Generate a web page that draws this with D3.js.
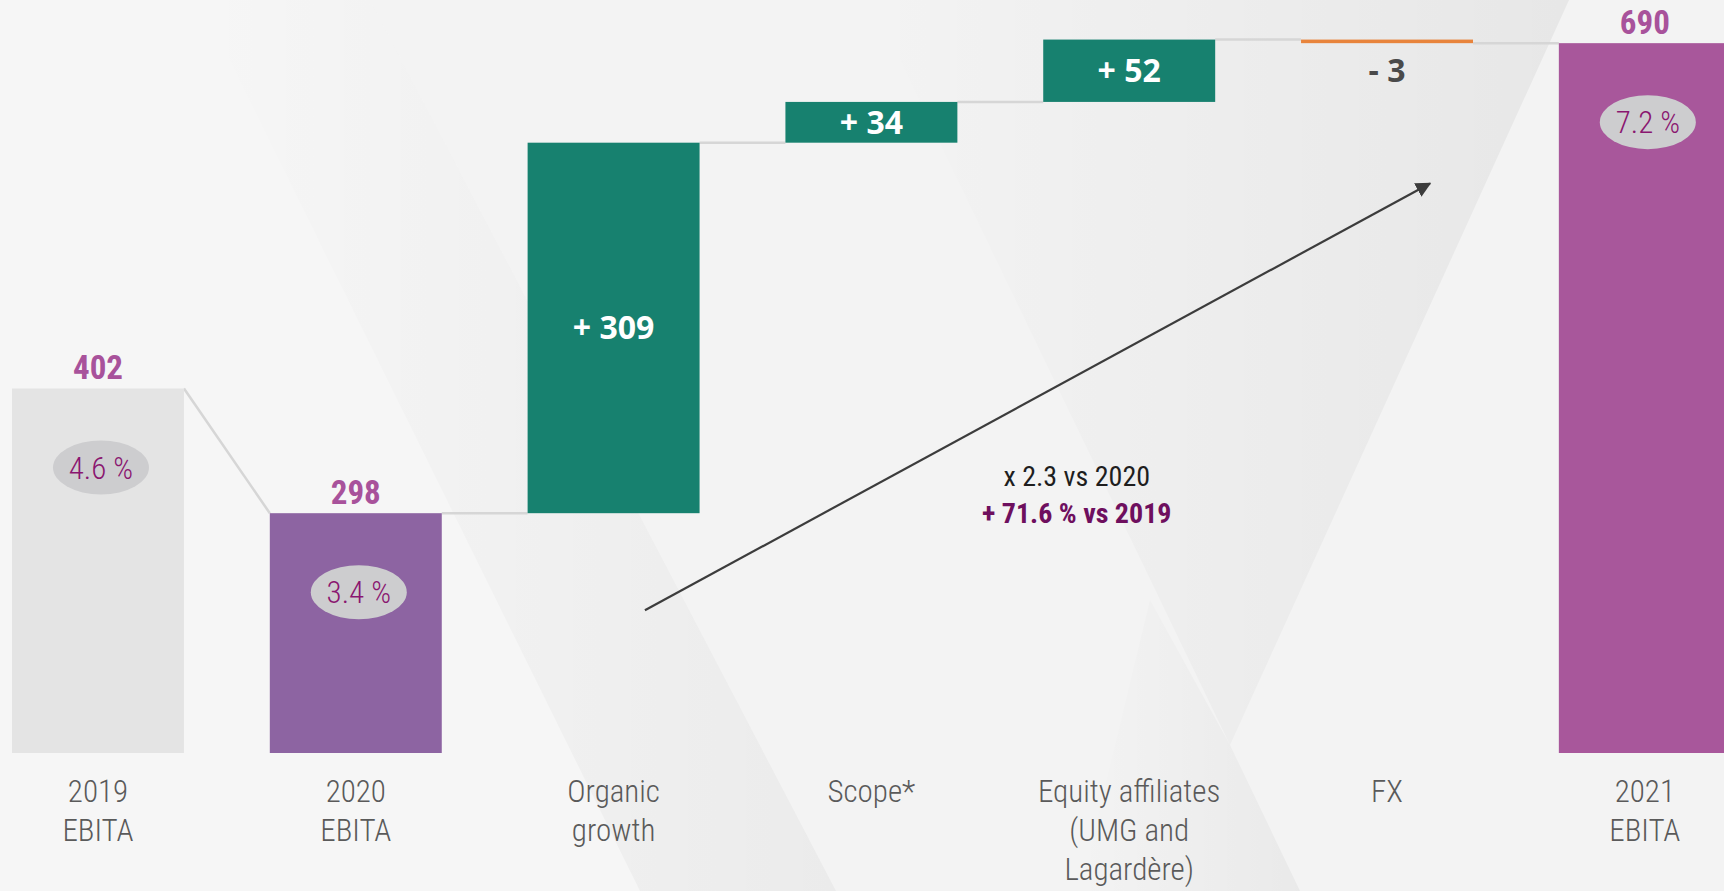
<!DOCTYPE html>
<html>
<head>
<meta charset="utf-8">
<script src="https://cdn.jsdelivr.net/npm/d3@7"></script>
<style>
  html, body { margin: 0; padding: 0; background: #f3f3f3; }
  svg { display: block; }
</style>
</head>
<body>
<svg id="canvas" width="1724" height="891"></svg>
<script>
// EBITA bridge 2020 -> 2021 (waterfall)

// data
var categories = ["2019 EBITA", "2020 EBITA", "Organic growth", "Scope*",
                  "Equity affiliates (UMG and Lagardère)", "FX", "2021 EBITA"];
var labelLines = [["2019", "EBITA"], ["2020", "EBITA"], ["Organic", "growth"], ["Scope*"],
                  ["Equity affiliates", "(UMG and", "Lagardère)"], ["FX"], ["2021", "EBITA"]];
var kinds = ["total", "total", "delta", "delta", "delta", "delta", "total"];
var values = [402, 298, 309, 34, 52, -3, 690];
var margins = ["4.6 %", "3.4 %", null, null, null, null, "7.2 %"];
var barColors = ["#e4e4e4", "#8d64a2", "#17816f", "#17816f", "#17816f", "#e8843c", "#a8579b"];
var annoLines = ["x 2.3 vs 2020", "+ 71.6 % vs 2019"];

var condensed = "'Roboto Condensed', 'Liberation Sans Narrow', 'DejaVu Sans Condensed', 'Arial Narrow', sans-serif";

var svg = d3.select("#canvas");
var width = +svg.attr("width");
var height = +svg.attr("height");

//background decoration
var defs = svg.append("defs");
function grad(id, x1, x2, o1, o2) {
  var g = defs.append("linearGradient").attr("id", id)
    .attr("x1", x1).attr("y1", 0).attr("x2", x2).attr("y2", 0);
  g.append("stop").attr("offset", "0%").attr("stop-color", "#000").attr("stop-opacity", o1);
  g.append("stop").attr("offset", "100%").attr("stop-color", "#000").attr("stop-opacity", o2);
}
grad("shadeL", 0, 1, 0, 0.045);
grad("shadeR", 0, 1, 0, 0.05);
grad("shadeB", 0, 1, 0, 0.04);

svg.append("rect").attr("width", width).attr("height", height).attr("fill", "#f3f3f3");
svg.append("polygon").attr("points", "0,0 370,0 836,891 0,891").attr("fill", "#f6f6f6");
svg.append("polygon").attr("points", "200,0 370,0 836,891 640,891").attr("fill", "url(#shadeL)");
svg.append("polygon").attr("points", "871,0 1569,0 1230,745").attr("fill", "url(#shadeR)");
svg.append("polygon").attr("points", "1080,891 1300,891 1230,745 1150,600").attr("fill", "url(#shadeB)");

// scales
var x = d3.scaleBand()
  .domain(categories)
  .range([12, 12 + 6 * 257.8 + 172])
  .paddingInner(0.333)
  .paddingOuter(0);

var base = 98;
var y = d3.scaleLinear()
  .domain([base, 726])
  .range([753, 0]);

// positional index scale for annotations
var xi = d3.scaleLinear().domain([0, categories.length]).range([12, 12 + categories.length * x.step()]);

// build waterfall steps
var steps = [];
var running = 0;
categories.forEach(function(c, i) {
  var s;
  if (kinds[i] == "total") {
    s = {cat: c, lo: base, hi: values[i], end: values[i]};
    running = values[i];
  } else {
    var next = running + values[i];
    s = {cat: c, lo: Math.min(running, next), hi: Math.max(running, next), end: next};
    running = next;
  }
  s.i = i;
  s.value = values[i];
  s.kind = kinds[i];
  steps.push(s);
});

// connectors
var conn = svg.append("g").attr("class", "connectors");
for (var i = 1; i < steps.length; i++) {
  var p = steps[i - 1], q = steps[i];
  var yq = q.kind == "total" ? y(q.end) : y(p.end);
  conn.append("line")
    .attr("x1", x(p.cat) + x.bandwidth())
    .attr("y1", y(p.end))
    .attr("x2", x(q.cat))
    .attr("y2", yq)
    .style("stroke", "#d6d6d6")
    .style("stroke-width", 2.5);
}

// bars
svg.selectAll("rect.bar")
  .data(steps)
  .enter().append("rect")
  .attr("class", "bar")
  .attr("x", function(d) { return x(d.cat); })
  .attr("y", function(d) { return y(d.hi); })
  .attr("width", x.bandwidth())
  .attr("height", function(d) { return y(d.lo) - y(d.hi); })
  .style("fill", function(d, i) { return barColors[i]; });

// totals: value on top, margin bubble inside
var totals = steps.filter(function(d) { return d.kind == "total"; });
svg.selectAll("text.total")
  .data(totals)
  .enter().append("text")
  .attr("class", "total")
  .attr("x", function(d) { return x(d.cat) + x.bandwidth() / 2; })
  .attr("y", function(d) { return y(d.hi) - 9; })
  .attr("text-anchor", "middle")
  .style("font-family", condensed)
  .style("font-weight", "bold")
  .style("font-size", "33px")
  .style("fill", "#a8529b")
  .text(function(d) { return d.value; });

var bubbles = svg.selectAll("g.margin")
  .data(totals)
  .enter().append("g")
  .attr("class", "margin")
  .attr("transform", function(d) {
    return "translate(" + (x(d.cat) + x.bandwidth() / 2 + 3) + "," + (y(d.hi) + 79) + ")";
  });
bubbles.append("ellipse")
  .attr("rx", 48).attr("ry", 27)
  .style("fill", "#cdcdcf");
bubbles.append("text")
  .attr("text-anchor", "middle")
  .attr("dy", "0.36em")
  .style("font-family", condensed)
  .style("font-weight", 300)
  .style("font-size", "31px")
  .style("fill", "#8a1670")
  .text(function(d) { return margins[d.i]; });

// deltas: labels
var deltas = steps.filter(function(d) { return d.kind == "delta"; });
svg.selectAll("text.delta")
  .data(deltas)
  .enter().append("text")
  .attr("class", "delta")
  .attr("x", function(d) { return x(d.cat) + x.bandwidth() / 2; })
  .attr("y", function(d) {
    return d.value >= 0 ? (y(d.lo) + y(d.hi)) / 2 : y(d.lo) + 27;
  })
  .attr("dy", "0.36em")
  .attr("text-anchor", "middle")
  .style("font-family", "'Open Sans', sans-serif")
  .style("font-weight", "bold")
  .style("font-size", "32px")
  .style("fill", function(d) { return d.value >= 0 ? "#ffffff" : "#4a4a4a"; })
  .text(function(d) { return (d.value >= 0 ? "+ " : "- ") + Math.abs(d.value); });

// category labels
var catLabels = svg.selectAll("text.cat")
  .data(steps)
  .enter().append("text")
  .attr("class", "cat")
  .attr("x", function(d) { return x(d.cat) + x.bandwidth() / 2; })
  .attr("y", 802)
  .attr("text-anchor", "middle")
  .style("font-family", condensed)
  .style("font-weight", 300)
  .style("font-size", "31px")
  .style("fill", "#5a5a5a");
catLabels.selectAll("tspan")
  .data(function(d) { return labelLines[d.i].map(function(t, k) { return {t: t, k: k, cx: x(d.cat) + x.bandwidth() / 2}; }); })
  .enter().append("tspan")
  .attr("x", function(d) { return d.cx; })
  .attr("dy", function(d) { return d.k == 0 ? 0 : 39; })
  .text(function(d) { return d.t; });

// growth arrow
defs.append("marker")
  .attr("id", "arrowhead")
  .attr("viewBox", "0 0 10 10")
  .attr("refX", 9).attr("refY", 5)
  .attr("markerWidth", 7).attr("markerHeight", 7)
  .attr("orient", "auto")
  .append("path")
  .attr("d", "M0,0 L10,5 L0,10 z")
  .style("fill", "#3c3c3c");

svg.append("line")
  .attr("x1", xi(2.455)).attr("y1", y(217))
  .attr("x2", xi(5.5)).attr("y2", y(573))
  .style("stroke", "#3c3c3c")
  .style("stroke-width", 2.2)
  .attr("marker-end", "url(#arrowhead)");

svg.append("text")
  .attr("x", xi(4.13)).attr("y", y(321))
  .attr("text-anchor", "middle")
  .style("font-family", condensed)
  .style("font-size", "28px")
  .style("fill", "#1e1e1e")
  .text(annoLines[0]);
svg.append("text")
  .attr("x", xi(4.13)).attr("y", y(290))
  .attr("text-anchor", "middle")
  .style("font-family", condensed)
  .style("font-weight", "bold")
  .style("font-size", "28px")
  .style("fill", "#6e0f5e")
  .text(annoLines[1]);
</script>
</body>
</html>
